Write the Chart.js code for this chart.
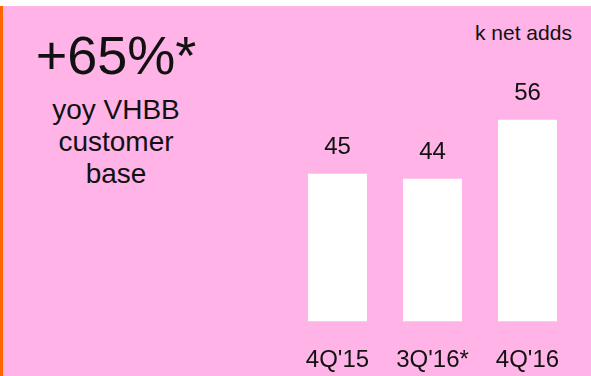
<!DOCTYPE html>
<html>
<head>
<meta charset="utf-8">
<script src="https://cdn.jsdelivr.net/npm/chart.js@4/dist/chart.umd.min.js"></script>
<style>
  html, body { margin: 0; padding: 0; background: #fff; overflow: hidden; }
  #panel {
    position: absolute; left: 0; top: 6px; width: 588px; height: 370px;
    background: #ffb3e6; border-left: 3px solid #ff6600;
  }
  #wrap { position: absolute; left: 0; top: 0; width: 591px; height: 400px; }
  .txt { position: absolute; font-family: "Liberation Sans", Arial, Helvetica, sans-serif; color: #111; white-space: nowrap; }
  #big { left: 0; width: 232px; top: 25px; text-align: center; font-size: 54px; line-height: 60px; }
  #sub { left: 0; width: 232px; top: 94px; text-align: center; font-size: 28px; line-height: 32px; }
  #unit { left: 475px; top: 21px; font-size: 21px; line-height: 24px; }
</style>
</head>
<body>
<div id="panel"></div>
<div class="txt" id="big">+65%*</div>
<div class="txt" id="sub">yoy VHBB<br>customer<br>base</div>
<div class="txt" id="unit">k net adds</div>
<div id="wrap"><canvas id="bars" width="591" height="400"></canvas></div>
<script>
const quarters = ["4Q'15", "3Q'16*", "4Q'16"];
const netAdds = [45, 44, 56];

// value labels above each bar
const valueLabels = {
  id: 'valueLabels',
  afterDatasetsDraw(chart) {
    const ctx = chart.ctx;
    const meta = chart.getDatasetMeta(0);
    ctx.save();
    ctx.font = '24px "Liberation Sans", Arial, Helvetica, sans-serif';
    ctx.fillStyle = '#111';
    ctx.textAlign = 'center';
    ctx.textBaseline = 'alphabetic';
    meta.data.forEach((bar, i) => {
      ctx.fillText(String(netAdds[i]), bar.x, bar.y - 20);
    });
    ctx.restore();
  }
};

new Chart(document.getElementById('bars').getContext('2d'), {
  type: 'bar',
  data: {
    labels: quarters,
    datasets: [{ data: netAdds, backgroundColor: '#ffffff', borderWidth: 0 }]
  },
  options: {
    responsive: false,
    animation: false,
    layout: { padding: { left: 290, right: 16, top: 51, bottom: 0 } },
    plugins: { legend: { display: false }, tooltip: { enabled: false } },
    datasets: { bar: { categoryPercentage: 1, barPercentage: 0.62 } },
    scales: {
      x: {
        grid: { display: false, drawTicks: false },
        border: { display: false },
        ticks: {
          padding: 25,
          color: '#111',
          font: { family: '"Liberation Sans", Arial, Helvetica, sans-serif', size: 24 }
        }
      },
      y: { display: false, min: 15, max: 70 }
    }
  },
  plugins: [valueLabels]
});
</script>
</body>
</html>
